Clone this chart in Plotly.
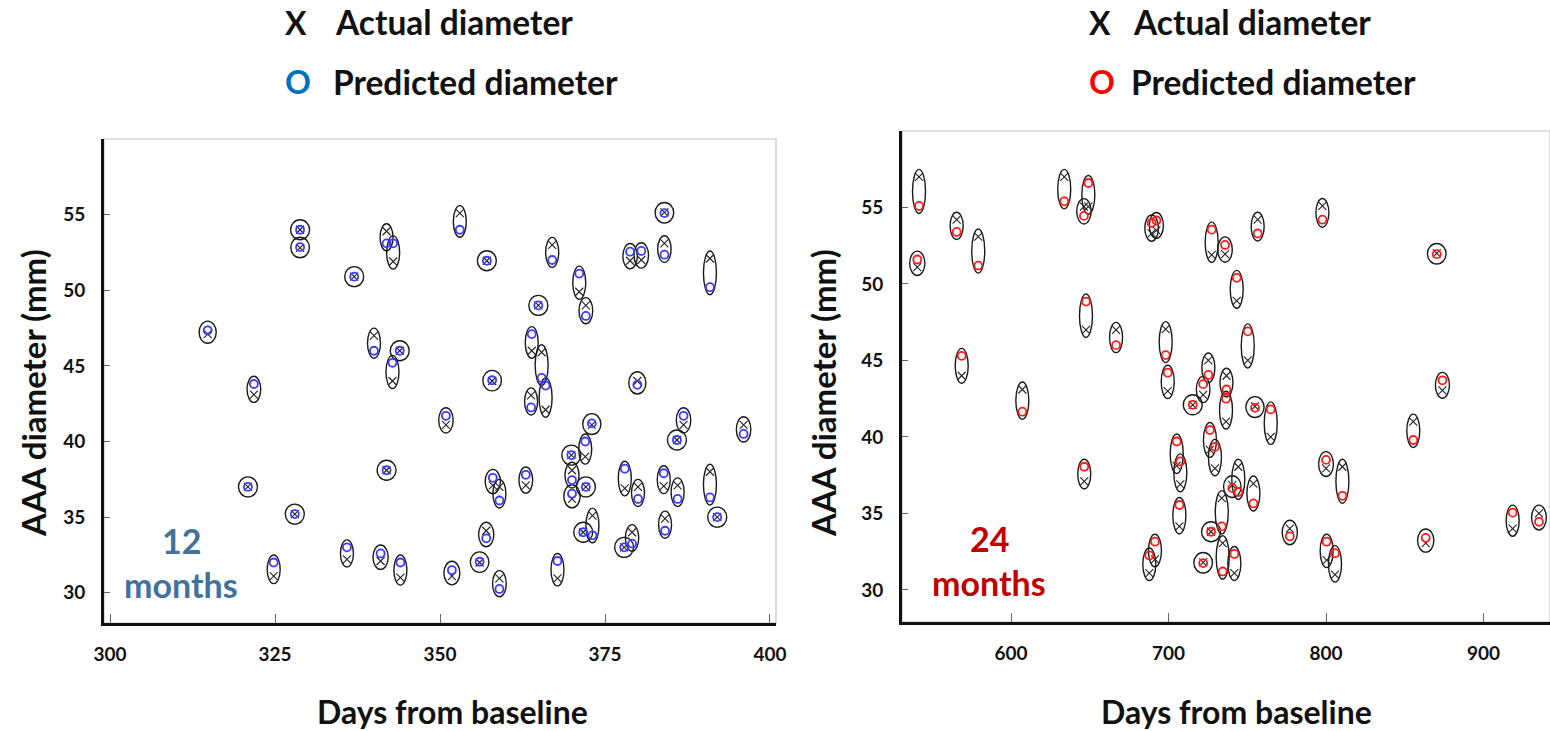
import plotly.graph_objects as go

# ---- 12-month follow-up (days from baseline, diameters in mm) ----
days_12 = [314.8, 320.9, 321.8, 324.8, 328.0, 328.8, 328.8, 335.9, 337.0, 340.0,
           341.0, 341.9, 341.9, 342.9, 342.8, 343.9, 344.0, 350.9, 351.8, 353.0,
           356.0, 357.0, 357.1, 357.9, 358.0, 359.0, 359.0, 363.0, 363.9, 363.8,
           365.4, 366.0, 364.9, 367.0, 367.8, 369.9, 370.0, 370.0, 371.1, 371.7,
           372.0, 372.1, 372.1, 373.0, 373.1, 377.9, 378.0, 378.8, 379.1, 379.9,
           380.0, 380.5, 383.9, 384.0, 384.0, 384.1, 385.9, 386.0, 386.9, 390.9,
           390.9, 392.0, 396.0]
actual_12 = [47.1, 37.0, 43.1, 31.1, 35.2, 54.0, 52.8, 32.2, 50.9, 47.0,
             32.1, 53.9, 38.1, 51.9, 44.0, 46.0, 31.0, 41.1, 31.1, 55.1,
             32.0, 34.1, 51.95, 44.0, 37.1, 37.0, 30.95, 37.1, 46.0, 43.05,
             45.9, 42.1, 49.0, 53.0, 30.95, 39.1, 38.1, 36.2, 49.9, 34.0,
             39.0, 37.0, 49.0, 41.1, 35.1, 33.0, 36.9, 51.95, 34.0, 44.0,
             37.0, 52.0, 37.05, 55.15, 53.1, 34.9, 40.1, 37.1, 41.1, 52.1,
             38.0, 35.0, 41.1]
pred_12 = [47.35, 37.0, 43.8, 32.0, 35.2, 54.0, 52.85, 33.0, 50.9, 46.0,
           32.6, 53.1, 38.1, 53.1, 45.2, 46.0, 32.0, 41.7, 31.5, 54.0,
           32.05, 33.6, 51.95, 44.05, 37.6, 36.1, 30.25, 37.8, 47.1, 42.25,
           44.2, 43.7, 49.0, 52.0, 32.1, 39.1, 37.45, 36.55, 51.1, 34.0,
           40.0, 37.0, 48.3, 41.2, 33.8, 33.0, 38.2, 52.55, 33.25, 43.75,
           36.2, 52.6, 37.9, 55.1, 52.35, 34.1, 40.1, 36.2, 41.7, 50.2,
           36.3, 35.0, 40.5]

# ---- 24-month follow-up ----
days_24 = [541.6, 540.5, 565.5, 568.7, 579.2, 607.2, 633.8, 646.3, 649.1, 647.6,
           646.5, 666.7, 687.8, 691.4, 689.3, 692.3, 698.2, 699.5, 705.2, 707.5,
           706.9, 715.4, 722.0, 722.0, 725.3, 726.3, 727.0, 727.4, 729.5, 733.8,
           734.4, 735.9, 736.8, 736.5, 740.5, 741.8, 743.3, 744.3, 750.3, 753.9,
           754.9, 756.6, 764.9, 777.0, 797.7, 800.0, 800.4, 805.7, 810.4, 855.4,
           863.3, 870.3, 873.9, 918.5, 935.2]
actual_24 = [57.0, 51.1, 54.2, 44.0, 53.1, 43.1, 57.0, 55.05, 55.05, 47.0,
             37.1, 47.0, 31.1, 32.0, 53.3, 53.5, 47.05, 43.0, 38.1, 36.9,
             34.15, 42.1, 42.75, 31.8, 45.0, 39.15, 33.8, 51.9, 37.95, 36.0,
             33.05, 51.95, 44.0, 41.0, 36.85, 31.1, 48.9, 38.05, 45.0, 36.95,
             42.0, 54.2, 40.0, 34.0, 55.1, 37.95, 31.95, 31.0, 38.05, 41.0,
             33.05, 52.0, 43.05, 34.0, 35.0]
pred_24 = [55.1, 51.6, 53.4, 45.3, 51.2, 41.65, 55.4, 54.45, 56.6, 48.85,
           38.05, 46.0, 32.25, 33.15, 54.0, 54.15, 45.35, 44.2, 39.7, 38.4,
           35.55, 42.1, 43.45, 31.75, 44.05, 40.45, 33.8, 53.55, 39.35, 34.15,
           31.2, 52.55, 43.1, 42.5, 36.65, 32.35, 50.4, 36.4, 46.9, 35.65,
           41.9, 53.3, 41.8, 33.5, 54.2, 38.5, 33.15, 32.4, 36.15, 39.8,
           33.4, 51.95, 43.7, 35.05, 34.45]

x_ticks_12 = [300, 325, 350, 375, 400]
x_ticks_24 = [600, 700, 800, 900]
y_ticks = [30, 35, 40, 45, 50, 55]

W, H = 1550, 731
FONT = "Lato"
BLUE_O = "#3b3bff"
RED_O = "#ff1a1a"

# plot areas in pixels: (left, right, top, bottom)
box_12 = (104, 776, 139, 623)
box_24 = (902, 1550, 131, 622)
range_x12 = [299.09, 400.91]
range_x24 = [530.8, 942.2]
range_y12 = [28.0, 60.0]
range_y24 = [27.9, 60.0]

fig = go.Figure()


def add_panel(days, actual, pred, xa, ya, o_color, yrange, box):
    mm_px = (box[3] - box[2]) / (yrange[1] - yrange[0])
    # ellipse around each actual/predicted pair
    for d, a, p in zip(days, actual, pred):
        dy_px = abs(a - p) * mm_px
        round_f = max(0.0, 1.0 - dy_px / 12.0)
        w = 13 + 6 * round_f
        pad = (7.5 + 2.5 * round_f) / mm_px
        fig.add_shape(type="circle", xref=xa, yref=ya, xsizemode="pixel",
                      xanchor=d, x0=-w / 2, x1=w / 2,
                      y0=min(a, p) - pad, y1=max(a, p) + pad,
                      line=dict(color="#1a1a1a", width=1.4), layer="below")
    fig.add_trace(go.Scatter(x=days, y=actual, mode="markers", xaxis=xa, yaxis=ya,
                             marker=dict(symbol="x-thin", size=8, color="#222",
                                         line=dict(color="#222", width=1.1)),
                             name="Actual diameter", hoverinfo="x+y"))
    fig.add_trace(go.Scatter(x=days, y=pred, mode="markers", xaxis=xa, yaxis=ya,
                             marker=dict(symbol="circle-open", size=8, color=o_color,
                                         line=dict(color=o_color, width=1.8)),
                             name="Predicted diameter", hoverinfo="x+y"))


add_panel(days_12, actual_12, pred_12, "x", "y", BLUE_O, range_y12, box_12)
add_panel(days_24, actual_24, pred_24, "x2", "y2", RED_O, range_y24, box_24)


def xdom(b):
    return [b[0] / W, b[1] / W]


def ydom(b):
    return [1 - b[3] / H, 1 - b[2] / H]


tickfont = dict(family=FONT, size=19, color="#111", weight="bold")
common_x = dict(showgrid=False, zeroline=False, showline=True, linecolor="#111",
                linewidth=3, ticks="inside", ticklen=9, tickwidth=1,
                tickcolor="#666", tickfont=tickfont, ticklabelstandoff=12,
                automargin=False, title=dict(text=""))
common_y = dict(showgrid=False, zeroline=False, showline=True, linecolor="#111",
                linewidth=3, ticks="inside", ticklen=6, tickwidth=1,
                tickcolor="#666", tickfont=tickfont, ticklabelstandoff=12,
                automargin=False, title=dict(text=""))

fig.update_layout(
    template="none",
    width=W, height=H, margin=dict(l=0, r=0, t=0, b=0, pad=0),
    paper_bgcolor="white", plot_bgcolor="white", showlegend=False,
    xaxis=dict(common_x, domain=xdom(box_12), range=range_x12,
               tickvals=x_ticks_12, anchor="y"),
    yaxis=dict(common_y, domain=ydom(box_12), range=range_y12,
               tickvals=y_ticks, anchor="x"),
    xaxis2=dict(common_x, domain=xdom(box_24), range=range_x24,
                tickvals=x_ticks_24, anchor="y2"),
    yaxis2=dict(common_y, domain=ydom(box_24), range=range_y24,
                tickvals=y_ticks, anchor="x2"),
)

# light frame on top and right of each plot area
for xr, yr in (("x domain", "y domain"), ("x2 domain", "y2 domain")):
    fig.add_shape(type="rect", xref=xr, yref=yr, x0=0, x1=1, y0=0, y1=1,
                  line=dict(color="#c4c4c4", width=1.2), layer="below")

ann = []


def txt(x, y, s, size, color="#111", anchor="center", angle=0):
    ann.append(dict(x=x / W, y=1 - y / H, xref="paper", yref="paper", text=s,
                    showarrow=False, xanchor=anchor, yanchor="middle",
                    textangle=angle, borderpad=0,
                    font=dict(family=FONT, size=size, color=color, weight="bold")))


# axis titles
txt(33, 393, "AAA diameter (mm)", 33, angle=-90)
txt(823, 393, "AAA diameter (mm)", 33, angle=-90)
txt(453, 711, "Days from baseline", 32)
txt(1236, 711, "Days from baseline", 32)

# marker keys
txt(284, 22, "X", 32, anchor="left")
txt(334, 22, "Actual diameter", 33.5, anchor="left")
txt(284, 82, "O", 32, color="#0070c0", anchor="left")
txt(332, 82, "Predicted diameter", 33.5, anchor="left")
txt(1088, 22, "X", 32, anchor="left")
txt(1132, 22, "Actual diameter", 33.5, anchor="left")
txt(1088, 82, "O", 32, color="#ff0000", anchor="left")
txt(1130, 82, "Predicted diameter", 33.5, anchor="left")

# follow-up labels
txt(181, 540, "12", 34, color="#41719c")
txt(181, 584, "months", 34, color="#41719c")
txt(989, 538, "24", 34, color="#c00000")
txt(989, 582, "months", 34, color="#c00000")

fig.update_layout(annotations=ann)
fig.write_html("out.html")
